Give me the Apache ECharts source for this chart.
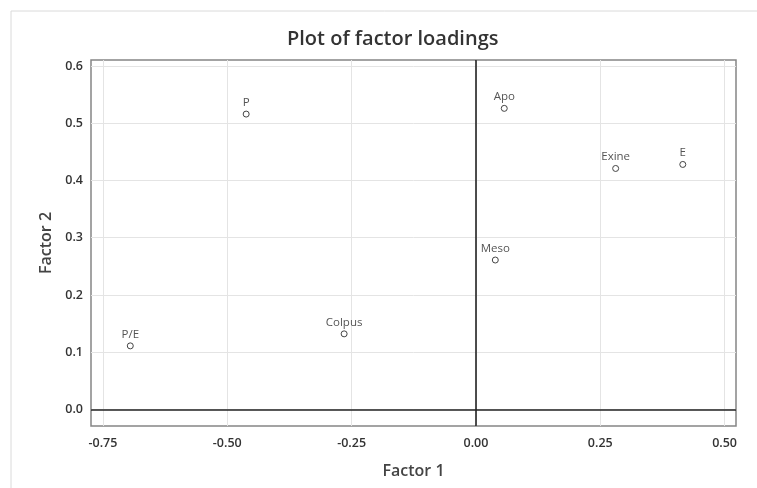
<!DOCTYPE html>
<html>
<head>
<meta charset="utf-8">
<script src="https://cdn.jsdelivr.net/npm/echarts@6/dist/echarts.min.js"></script>
<style>
  html, body { margin: 0; padding: 0; background: #fff; }
  #chart { width: 757px; height: 488px; }
</style>
</head>
<body>
<div id="chart"></div>
<script>
// factor loadings
const names = ['P', 'Apo', 'Exine', 'E', 'Meso', 'P/E', 'Colpus']
const factor1 = [-0.462, 0.057, 0.281, 0.416, 0.039, -0.695, -0.265]
const factor2 = [0.516, 0.526, 0.421, 0.428, 0.261, 0.111, 0.132]
const xTicks = [-0.75, -0.5, -0.25, 0, 0.25, 0.5]
const yTicks = [0, 0.1, 0.2, 0.3, 0.4, 0.5, 0.6]

const chart = echarts.init(document.getElementById('chart'))

const font = '"Open Sans", "Noto Sans", sans-serif'
const gridLine = { color: '#e4e4e4', width: 1, type: 'solid' }
const zeroLine = { color: '#222', width: 1.6, type: 'solid' }

const points = names.map((n, i) => ({ name: n, value: [factor1[i], factor2[i]] }))

const option = {
  backgroundColor: '#fff',
  animation: false,
  textStyle: { fontFamily: font },
  title: {
    text: 'Plot of factor loadings',
    left: 282,
    top: 24,
    textStyle: { fontSize: 20, fontWeight: 600, color: '#333', fontFamily: font },
  },
  graphic: [
    {
      type: 'rect',
      shape: { x: 11, y: 11, width: 780, height: 500 },
      style: { fill: 'none', stroke: '#dadada', lineWidth: 1 },
      silent: true,
    },
  ],
  grid: {
    left: 91,
    right: 21,
    top: 60,
    bottom: 62,
    show: true,
    borderColor: '#858585',
    borderWidth: 1.5,
  },
  xAxis: {
    type: 'value',
    min: -0.774,
    max: 0.523,
    name: 'Factor 1',
    nameLocation: 'middle',
    nameGap: 37,
    nameTextStyle: { fontSize: 16, fontWeight: 600, color: '#444' },
    axisLine: { show: false },
    axisTick: { show: true, customValues: xTicks, length: 4, lineStyle: { color: '#858585' } },
    axisLabel: {
      customValues: xTicks,
      fontSize: 12.5,
      fontWeight: 600,
      color: '#333',
      margin: 11,
      formatter: (v) => v.toFixed(2),
    },
    splitLine: { show: false },
  },
  yAxis: {
    type: 'value',
    min: -0.029,
    max: 0.6105,
    name: 'Factor 2',
    nameLocation: 'middle',
    nameGap: 36,
    nameTextStyle: { fontSize: 16, fontWeight: 600, color: '#444' },
    axisLine: { show: false },
    axisTick: { show: true, customValues: yTicks, length: 4, lineStyle: { color: '#858585' } },
    axisLabel: {
      customValues: yTicks,
      fontSize: 12.5,
      fontWeight: 600,
      color: '#333',
      margin: 8,
      formatter: (v) => v.toFixed(1),
    },
    splitLine: { show: false },
  },
  series: [
    {
      type: 'scatter',
      data: points,
      symbol: 'circle',
      symbolSize: 6,
      itemStyle: { color: '#fff', borderColor: '#444', borderWidth: 1, opacity: 1 },
      label: {
        show: true,
        position: 'top',
        distance: 2,
        fontSize: 11.5,
        color: '#555',
        formatter: (p) => p.name,
      },
      markLine: {
        silent: true,
        symbol: 'none',
        label: { show: false },
        data: xTicks.map((v) => ({ xAxis: v, lineStyle: gridLine }))
          .concat(yTicks.map((v) => ({ yAxis: v, lineStyle: gridLine })))
          .concat([
            { xAxis: 0, lineStyle: zeroLine },
            { yAxis: 0, lineStyle: zeroLine },
          ]),
      },
      z: 5,
    },
  ],
}

chart.setOption(option)
</script>
</body>
</html>
